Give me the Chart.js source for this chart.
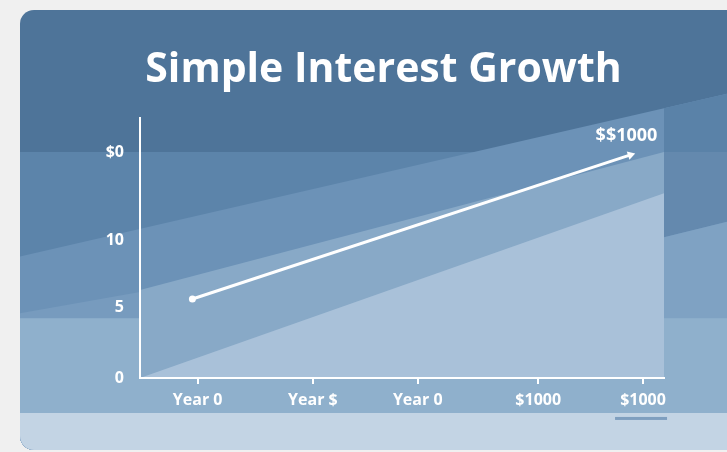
<!DOCTYPE html>
<html>
<head>
<meta charset="utf-8">
<script src="https://cdn.jsdelivr.net/npm/chart.js@4.4.1/dist/chart.umd.min.js"></script>
<style>
  html, body { margin: 0; padding: 0; background: #f0f0f0; }
  #wrap { width: 727px; height: 452px; }
</style>
</head>
<body>
<div id="wrap"><canvas id="chart"></canvas></div>
<script>
// values (the labels are what the picture shows)
const years = [0.5, 4.68];
const balance = [5.56, 15.7];
const xTickValues = [0.55, 1.65, 2.65, 3.8, 4.8];
const xTickLabels = ['Year 0', 'Year $', 'Year 0', '$1000', '$1000'];
const yTickValues = [0, 5, 9.7, 15.9];
const yTickLabels = ['0', '5', '10', '$0'];
const titleText = 'Simple Interest Growth';
const endLabel = '$$1000';

const FONT = "'Open Sans', 'Noto Sans', sans-serif";

// decorative background bands, in axis units
const bands = [
  { color: '#5c84aa', pts: [[-3, 15.9], [5, 15.9], [5, -8], [-3, -8]] },
  { color: '#6c92b7', pts: [[-3, 5.39], [6.5, 21.54], [6.5, -8], [-3, -8]] },
  { color: '#5a82a8', pts: [[5, 18.99], [6.5, 21.54], [6.5, 15.9], [5, 15.9]] },
  { color: '#6489ae', pts: [[5, 15.9], [6.5, 15.9], [6.5, 12.65], [5, 9.9]] },
  { color: '#7fa2c3', pts: [[5, 9.9], [6.5, 12.65], [6.5, -8], [5, -8]] },
  { color: '#779bbe', pts: [[-3, 2.15], [0, 6.05], [0, -8], [-3, -8]] },
  { color: '#8fb0cc', pts: [[-3, 4.2], [6.5, 4.2], [6.5, -2.46], [-3, -2.46]] },
  { color: '#88a9c7', pts: [[0, 6.2], [5, 15.9], [5, 0], [0, 0]] },
  { color: '#a9c1d9', pts: [[0, 0], [5, 13.0], [5, 0]] },
  { color: '#c3d4e4', pts: [[-3, -2.46], [6.5, -2.46], [6.5, -8], [-3, -8]] }
];

const cardBackground = {
  id: 'cardBackground',
  beforeDraw(chart) {
    const { ctx, width, height } = chart;
    const x = chart.scales.x, y = chart.scales.y;
    ctx.save();
    ctx.fillStyle = '#f0f0f0';
    ctx.fillRect(0, 0, width, height);
    ctx.beginPath();
    ctx.roundRect(20, 10, width, height - 12, 14);
    ctx.clip();
    ctx.fillStyle = '#4e7499';
    ctx.fillRect(0, 0, width, height);
    bands.forEach(b => {
      ctx.beginPath();
      b.pts.forEach(([vx, vy], i) => {
        const px = x.getPixelForValue(vx), py = y.getPixelForValue(vy);
        if (i === 0) ctx.moveTo(px, py); else ctx.lineTo(px, py);
      });
      ctx.closePath();
      ctx.fillStyle = b.color;
      ctx.fill();
    });
    // small bar under the last x label
    const lx = x.getPixelForValue(xTickValues[xTickValues.length - 1]);
    ctx.fillStyle = '#7f9fbf';
    ctx.fillRect(lx - 28, y.getPixelForValue(-2.46) + 4, 52, 3);
    ctx.restore();
  },
  afterDraw(chart) {
    const { ctx, width } = chart;
    ctx.save();
    ctx.fillStyle = '#ffffff';
    ctx.font = `bold 41px ${FONT}`;
    ctx.textAlign = 'center';
    ctx.textBaseline = 'middle';
    ctx.fillText(titleText, (20 + width + 20) / 2, 70);
    ctx.restore();
  }
};

const endLabelPlugin = {
  id: 'endLabel',
  afterDatasetsDraw(chart) {
    const meta = chart.getDatasetMeta(0);
    const pt = meta.data[meta.data.length - 1];
    const { ctx } = chart;
    ctx.save();
    ctx.fillStyle = '#ffffff';
    ctx.font = `bold 18px ${FONT}`;
    ctx.textAlign = 'center';
    ctx.textBaseline = 'middle';
    ctx.fillText(endLabel, pt.x - 4, pt.y - 19);
    ctx.restore();
  }
};

new Chart(document.getElementById('chart'), {
  type: 'line',
  data: {
    datasets: [{
      data: years.map((v, i) => ({ x: v, y: balance[i] })),
      borderColor: '#ffffff',
      borderWidth: 3,
      pointStyle: ['circle', 'triangle'],
      pointRadius: [3.5, 5],
      pointRotation: [0, 72],
      pointBackgroundColor: '#ffffff',
      pointBorderWidth: 0,
      tension: 0
    }]
  },
  options: {
    responsive: true,
    maintainAspectRatio: false,
    animation: false,
    layout: { padding: { top: 118, right: 63, left: 0, bottom: 0 } },
    plugins: {
      legend: { display: false },
      tooltip: { enabled: false }
    },
    scales: {
      x: {
        type: 'linear',
        min: 0,
        max: 5,
        afterBuildTicks: scale => { scale.ticks = xTickValues.map(v => ({ value: v })); },
        afterFit: scale => { scale.height = 74; },
        grid: { drawOnChartArea: false, drawTicks: true, tickLength: 6, color: '#ffffff', lineWidth: 2 },
        border: { display: true, color: '#ffffff', width: 2 },
        ticks: {
          color: '#ffffff',
          padding: 7,
          font: { family: FONT, size: 16, weight: 'bold' },
          callback: (v, i) => xTickLabels[i]
        }
      },
      y: {
        type: 'linear',
        min: 0,
        max: 18.3,
        afterBuildTicks: scale => { scale.ticks = yTickValues.map(v => ({ value: v })); },
        afterFit: scale => { scale.width = 140; },
        grid: { drawOnChartArea: false, drawTicks: false },
        border: { display: true, color: '#ffffff', width: 2 },
        ticks: {
          color: '#ffffff',
          padding: 16,
          font: { family: FONT, size: 16, weight: 'bold' },
          callback: (v, i) => yTickLabels[i]
        }
      }
    }
  },
  plugins: [cardBackground, endLabelPlugin]
});
</script>
</body>
</html>
